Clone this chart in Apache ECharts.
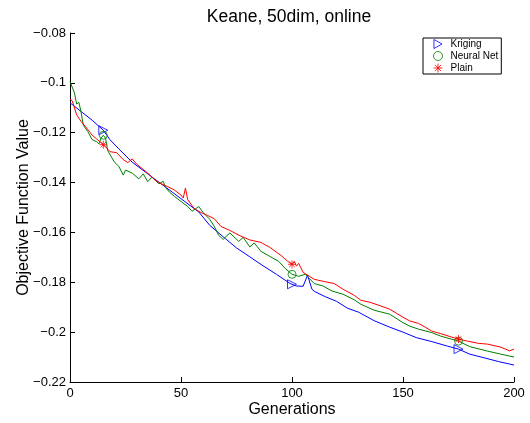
<!DOCTYPE html>
<html>
<head>
<meta charset="utf-8">
<script src="https://cdn.jsdelivr.net/npm/echarts@6/dist/echarts.min.js"></script>
<style>
  html, body { margin: 0; padding: 0; background: #fff; }
  #main { width: 530px; height: 423px; }
</style>
</head>
<body>
<div id="main"></div>
<script>
// generation / value pairs
var krigingGen = [0, 5, 10, 15, 18, 22, 28, 34, 40, 46, 52, 58, 63, 70, 75, 81, 87, 93, 99, 100,
  102, 105, 107, 109, 110, 115, 120, 125, 130, 137, 144, 150, 156, 163, 170, 175, 180, 187, 193, 200];
var krigingVal = [-0.108, -0.1115, -0.115, -0.119, -0.1228, -0.1265, -0.1318, -0.1358, -0.1398, -0.1438,
  -0.1478, -0.1518, -0.1572, -0.1625, -0.1662, -0.1698, -0.1734, -0.1768, -0.1804, -0.1808,
  -0.1815, -0.1816, -0.1772, -0.1828, -0.1836, -0.1858, -0.1876, -0.1904, -0.192, -0.1954,
  -0.198, -0.2, -0.2022, -0.2038, -0.2056, -0.2068, -0.2088, -0.2104, -0.2118, -0.2132];

var neuralGen = [0, 2, 3, 4, 5, 6, 8, 10, 12, 13, 14, 15, 16, 17, 20, 22, 24, 25, 28, 31, 33, 35, 37,
  40, 42, 43, 45, 47, 50, 53, 55, 58, 60, 63, 65, 67, 69, 72, 76, 78, 81, 83, 86, 90, 94, 97, 100,
  103, 106, 110, 114, 118, 123, 128, 131, 137, 144, 150, 153, 157, 163, 167, 175, 180, 188, 194, 200];
var neuralVal = [-0.0995, -0.104, -0.1085, -0.1078, -0.1118, -0.117, -0.1195, -0.1228, -0.1236, -0.1245,
  -0.1222, -0.121, -0.1222, -0.1272, -0.1318, -0.1335, -0.137, -0.135, -0.1362, -0.1385, -0.1365,
  -0.1396, -0.1378, -0.1405, -0.1395, -0.142, -0.144, -0.1455, -0.1476, -0.1496, -0.1515, -0.1496,
  -0.152, -0.1548, -0.1576, -0.1612, -0.1628, -0.1602, -0.1636, -0.162, -0.1658, -0.1642, -0.1676,
  -0.1696, -0.1716, -0.1745, -0.1768, -0.1776, -0.1768, -0.1805, -0.1815, -0.1835, -0.1848, -0.187,
  -0.1888, -0.1912, -0.1928, -0.1962, -0.1976, -0.1988, -0.2002, -0.2016, -0.2036, -0.2058, -0.2076,
  -0.2088, -0.21];

var plainGen = [0, 1, 3, 5, 7, 9, 10, 12, 14, 15, 16, 18, 21, 24, 26, 28, 30, 32, 35, 38, 41, 44, 47,
  50, 51, 52, 53, 56, 59, 62, 65, 68, 72, 77, 81, 86, 90, 95, 98, 99, 100, 101, 102, 103, 105, 110,
  114, 119, 123, 128, 131, 135, 140, 144, 150, 153, 157, 160, 163, 167, 172, 175, 179, 184, 188, 194, 198, 200];
var plainVal = [-0.1065, -0.1072, -0.1128, -0.1155, -0.1176, -0.1198, -0.121, -0.1225, -0.124, -0.1248,
  -0.1256, -0.1276, -0.128, -0.1308, -0.132, -0.1305, -0.1326, -0.134, -0.1362, -0.1388, -0.1405,
  -0.1416, -0.143, -0.145, -0.1462, -0.1422, -0.1468, -0.1505, -0.152, -0.1532, -0.1545, -0.1576,
  -0.1592, -0.1615, -0.163, -0.164, -0.166, -0.1692, -0.1715, -0.1722, -0.1728, -0.1716, -0.1735,
  -0.1724, -0.176, -0.1788, -0.1796, -0.1805, -0.1828, -0.1852, -0.1872, -0.188, -0.1895, -0.1908,
  -0.194, -0.1955, -0.1965, -0.198, -0.1996, -0.2006, -0.202, -0.2028, -0.2036, -0.2045, -0.2048,
  -0.206, -0.2075, -0.2068];

var markerGens = [15, 100, 175];
var xTicks = [0, 50, 100, 150, 200];
var yTicks = [-0.22, -0.2, -0.18, -0.16, -0.14, -0.12, -0.1, -0.08];

function pairs(g, v) {
  return g.map(function (x, i) { return [x, v[i]]; });
}
function marks(g, v) {
  return markerGens.map(function (m) { return [m, v[g.indexOf(m)]]; });
}

var font = 'Liberation Sans, Arial, Helvetica, sans-serif';
var triRight = 'path://M0,0L9,5L0,10Z';
var star = 'path://M5,0L5,10M0,5L10,5M1.5,1.5L8.5,8.5M8.5,1.5L1.5,8.5';

var myChart = echarts.init(document.getElementById('main'));
var option = {
  animation: false,
  backgroundColor: '#fff',
  title: {
    text: 'Keane, 50dim, online',
    left: 284, top: 3, textAlign: 'center',
    textStyle: { fontFamily: font, fontSize: 17.5, fontWeight: 'normal', color: '#000' }
  },
  legend: {
    data: [
      { name: 'Kriging', icon: triRight },
      { name: 'Neural Net', icon: 'circle' },
      { name: 'Plain', icon: star }
    ],
    orient: 'vertical',
    left: 423, top: 38,
    padding: [1, 3, 1, 10],
    itemGap: 2, itemWidth: 9, itemHeight: 9,
    itemStyle: { borderWidth: 1 },
    borderColor: '#000', borderWidth: 1,
    backgroundColor: '#fff',
    textStyle: { fontFamily: font, fontSize: 10, color: '#000', padding: [0, 0, 0, 3] }
  },
  grid: { left: 70, right: 16, top: 33, bottom: 40 },
  xAxis: {
    type: 'value', min: 0, max: 200, interval: 50,
    name: 'Generations', nameLocation: 'middle', nameGap: 20, nameMoveOverlap: false,
    nameTextStyle: { fontFamily: font, fontSize: 16, color: '#000' },
    axisLine: { lineStyle: { color: '#000', width: 1 } },
    axisTick: { inside: true, length: 5, lineStyle: { color: '#000' } },
    axisLabel: { fontFamily: font, fontSize: 13, color: '#000', margin: 5,
      formatter: function (v) { return xTicks.indexOf(v) >= 0 ? String(v) : ''; } },
    splitLine: { show: false }
  },
  yAxis: {
    type: 'value', min: -0.22, max: -0.08, interval: 0.02,
    name: 'Objective Function Value', nameLocation: 'middle', nameGap: 38, nameMoveOverlap: false,
    nameTextStyle: { fontFamily: font, fontSize: 16, color: '#000' },
    axisLine: { show: true, lineStyle: { color: '#000', width: 1 } },
    axisTick: { show: true, inside: true, length: 5, lineStyle: { color: '#000' } },
    axisLabel: { fontFamily: font, fontSize: 13, color: '#000', margin: 4,
      formatter: function (v) {
        var t = yTicks.find(function (y) { return Math.abs(y - v) < 1e-9; });
        return t === undefined ? '' : '\u2212' + String(Math.abs(t));
      } },
    splitLine: { show: false }
  },
  series: [
    { name: 'Kriging line', type: 'line', data: pairs(krigingGen, krigingVal), showSymbol: false,
      symbol: 'none', lineStyle: { color: '#0000ff', width: 1 }, z: 2 },
    { name: 'Neural Net line', type: 'line', data: pairs(neuralGen, neuralVal), showSymbol: false,
      symbol: 'none', lineStyle: { color: '#008000', width: 1 }, z: 2 },
    { name: 'Plain line', type: 'line', data: pairs(plainGen, plainVal), showSymbol: false,
      symbol: 'none', lineStyle: { color: '#ff0000', width: 1 }, z: 3 },
    { name: 'Kriging', type: 'scatter', data: marks(krigingGen, krigingVal),
      symbol: triRight, symbolSize: 9,
      itemStyle: { color: 'rgba(0,0,0,0)', borderColor: '#0000ff', borderWidth: 1 }, z: 4 },
    { name: 'Neural Net', type: 'scatter', data: marks(neuralGen, neuralVal),
      symbol: 'circle', symbolSize: 8,
      itemStyle: { color: 'rgba(0,0,0,0)', borderColor: '#008000', borderWidth: 1 }, z: 4 },
    { name: 'Plain', type: 'scatter', data: marks(plainGen, plainVal),
      symbol: star, symbolSize: 8,
      itemStyle: { color: 'rgba(0,0,0,0)', borderColor: '#ff0000', borderWidth: 1 }, z: 4 }
  ]
};

option && myChart.setOption(option);
</script>
</body>
</html>
